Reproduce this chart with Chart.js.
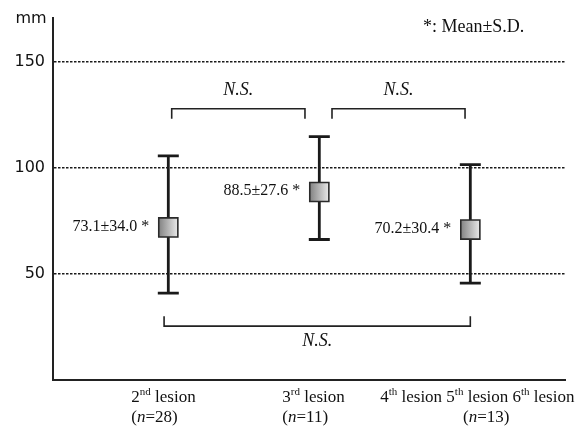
<!DOCTYPE html>
<html>
<head>
<meta charset="utf-8">
<script src="https://cdn.jsdelivr.net/npm/chart.js@4/dist/chart.umd.min.js"></script>
<style>
  html, body { margin: 0; padding: 0; background: #fff; }
  #wrap { width: 586px; height: 428px; }
</style>
</head>
<body>
<div id="wrap"><canvas id="chart"></canvas></div>
<script>
// data
const groupX = [1, 2, 3];
const meanPos = [72.0, 88.7, 71.0];
const sdHigh = [105.8, 114.8, 101.6];
const sdLow = [41.0, 66.3, 45.7];
const meanLabels = ['73.1\u00b134.0 *', '88.5\u00b127.6 *', '70.2\u00b130.4 *'];
const ordinals = [[['2', ''], ['nd', 'sup'], [' lesion', '']],
                  [['3', ''], ['rd', 'sup'], [' lesion', '']],
                  [['4', ''], ['th', 'sup'], [' lesion 5', ''], ['th', 'sup'], [' lesion 6', ''], ['th', 'sup'], [' lesion', '']]];
const nCounts = ['28', '11', '13'];
const yTicks = [50, 100, 150];

// N.S. brackets: from, to, bar level, leg end, label level
const bracketFrom = [1.0225, 2.084, 0.972];
const bracketTo = [1.905, 2.965, 3.0];
const bracketY = [128, 128, 25.4];
const bracketLeg = [123.3, 123.3, 30.1];
const bracketLabelY = [136.7, 136.7, 18.3];

const SERIF = '"Liberation Serif", "Times New Roman", serif';
const SANS = '"DejaVu Sans", Verdana, sans-serif';

// draws text pieces with superscript / italic parts, left aligned
function richText(ctx, parts, x, y, size) {
  let cx = x;
  parts.forEach(([t, style]) => {
    if (style === 'sup') {
      ctx.font = Math.round(size * 0.62) + 'px ' + SERIF;
      ctx.fillText(t, cx, y - size * 0.35);
    } else if (style === 'it') {
      ctx.font = 'italic ' + size + 'px ' + SERIF;
      ctx.fillText(t, cx, y);
    } else {
      ctx.font = size + 'px ' + SERIF;
      ctx.fillText(t, cx, y);
    }
    cx += ctx.measureText(t).width;
  });
  return cx - x;
}

function richWidth(ctx, parts, size) {
  ctx.save();
  ctx.globalAlpha = 0;
  const w = richText(ctx, parts, 0, 0, size);
  ctx.restore();
  return w;
}

const errorBars = {
  id: 'errorBars',
  beforeDatasetsDraw(chart) {
    const { ctx, scales: { x, y } } = chart;
    ctx.save();
    ctx.strokeStyle = '#1a1a1a';
    ctx.lineWidth = 2.8;
    groupX.forEach((g, i) => {
      const px = x.getPixelForValue(g);
      const top = y.getPixelForValue(sdHigh[i]);
      const bot = y.getPixelForValue(sdLow[i]);
      ctx.beginPath();
      ctx.moveTo(px, top); ctx.lineTo(px, bot);
      ctx.moveTo(px - 10.5, top); ctx.lineTo(px + 10.5, top);
      ctx.moveTo(px - 10.5, bot); ctx.lineTo(px + 10.5, bot);
      ctx.stroke();
    });
    ctx.restore();
  }
};

const annotations = {
  id: 'annotations',
  afterDraw(chart) {
    const { ctx, scales: { x, y } } = chart;
    ctx.save();
    ctx.fillStyle = '#111';
    ctx.textBaseline = 'middle';

    // unit label
    ctx.font = '16px ' + SANS;
    ctx.textAlign = 'center';
    ctx.fillText('mm', 31, 19);

    // key
    ctx.font = '18px ' + SERIF;
    ctx.textAlign = 'left';
    ctx.fillText('*: Mean\u00b1S.D.', 423, 27);

    // mean labels
    ctx.font = '16px ' + SERIF;
    ctx.textAlign = 'right';
    groupX.forEach((g, i) => {
      ctx.fillText(meanLabels[i], x.getPixelForValue(g) - 19, y.getPixelForValue(meanPos[i]) - 1);
    });

    // brackets
    ctx.strokeStyle = '#222';
    ctx.lineWidth = 1.6;
    bracketFrom.forEach((f, i) => {
      const x1 = x.getPixelForValue(f), x2 = x.getPixelForValue(bracketTo[i]);
      const by = y.getPixelForValue(bracketY[i]), ly = y.getPixelForValue(bracketLeg[i]);
      ctx.beginPath();
      ctx.moveTo(x1, ly); ctx.lineTo(x1, by); ctx.lineTo(x2, by); ctx.lineTo(x2, ly);
      ctx.stroke();
      ctx.font = 'italic 18px ' + SERIF;
      ctx.textAlign = 'center';
      ctx.fillText('N.S.', (x1 + x2) / 2, y.getPixelForValue(bracketLabelY[i]));
    });

    // category labels
    ctx.textAlign = 'left';
    const base = y.bottom;
    groupX.forEach((g, i) => {
      const px = x.getPixelForValue(g);
      const w1 = richWidth(ctx, ordinals[i], 17);
      const nParts = [['(', ''], ['n', 'it'], ['=' + nCounts[i] + ')', '']];
      const w2 = richWidth(ctx, nParts, 17);
      const left1 = i < 2 ? px - 37 : px + 7 - w1 / 2;
      const left2 = i < 2 ? px - 37 : px + 16 - w2 / 2;
      ctx.fillStyle = '#111';
      richText(ctx, ordinals[i], left1, base + 18, 17);
      richText(ctx, nParts, left2, base + 38, 17);
    });
    ctx.restore();
  }
};

new Chart(document.getElementById('chart'), {
  type: 'scatter',
  data: {
    datasets: [{
      data: groupX.map((g, i) => ({ x: g, y: meanPos[i] })),
      pointStyle: 'rect',
      pointRadius: 13.5,
      pointHoverRadius: 13.5,
      borderColor: '#2a2a2a',
      borderWidth: 1.6,
      backgroundColor: (c) => {
        const chart = c.chart;
        if (!chart.scales.x || c.dataIndex === undefined) return '#bbb';
        const px = chart.scales.x.getPixelForValue(groupX[c.dataIndex]);
        if (!isFinite(px)) return '#bbb';
        const grad = chart.ctx.createLinearGradient(px - 9, 0, px + 9, 0);
        grad.addColorStop(0, '#858585');
        grad.addColorStop(1, '#e6e6e6');
        return grad;
      }
    }]
  },
  options: {
    responsive: true,
    maintainAspectRatio: false,
    animation: false,
    layout: { padding: { top: 15, right: 21, left: 0, bottom: 0 } },
    plugins: {
      legend: { display: false },
      tooltip: { enabled: false }
    },
    scales: {
      x: {
        type: 'linear',
        min: 0.2364,
        max: 3.627,
        grid: { display: false },
        border: { display: true, color: '#222', width: 2 },
        ticks: { display: false },
        afterFit: (s) => { s.height = 48; }
      },
      y: {
        min: 0,
        max: 171,
        afterBuildTicks: (s) => { s.ticks = yTicks.map(v => ({ value: v })); },
        grid: { color: '#1a1a1a', lineWidth: 1.6, drawTicks: false },
        border: { display: true, color: '#222', width: 2, dash: [2.5, 1.5] },
        ticks: {
          padding: 8,
          color: '#111',
          font: { family: 'DejaVu Sans', size: 16 }
        },
        afterFit: (s) => { s.width = 53; }
      }
    }
  },
  plugins: [errorBars, annotations]
});
</script>
</body>
</html>
